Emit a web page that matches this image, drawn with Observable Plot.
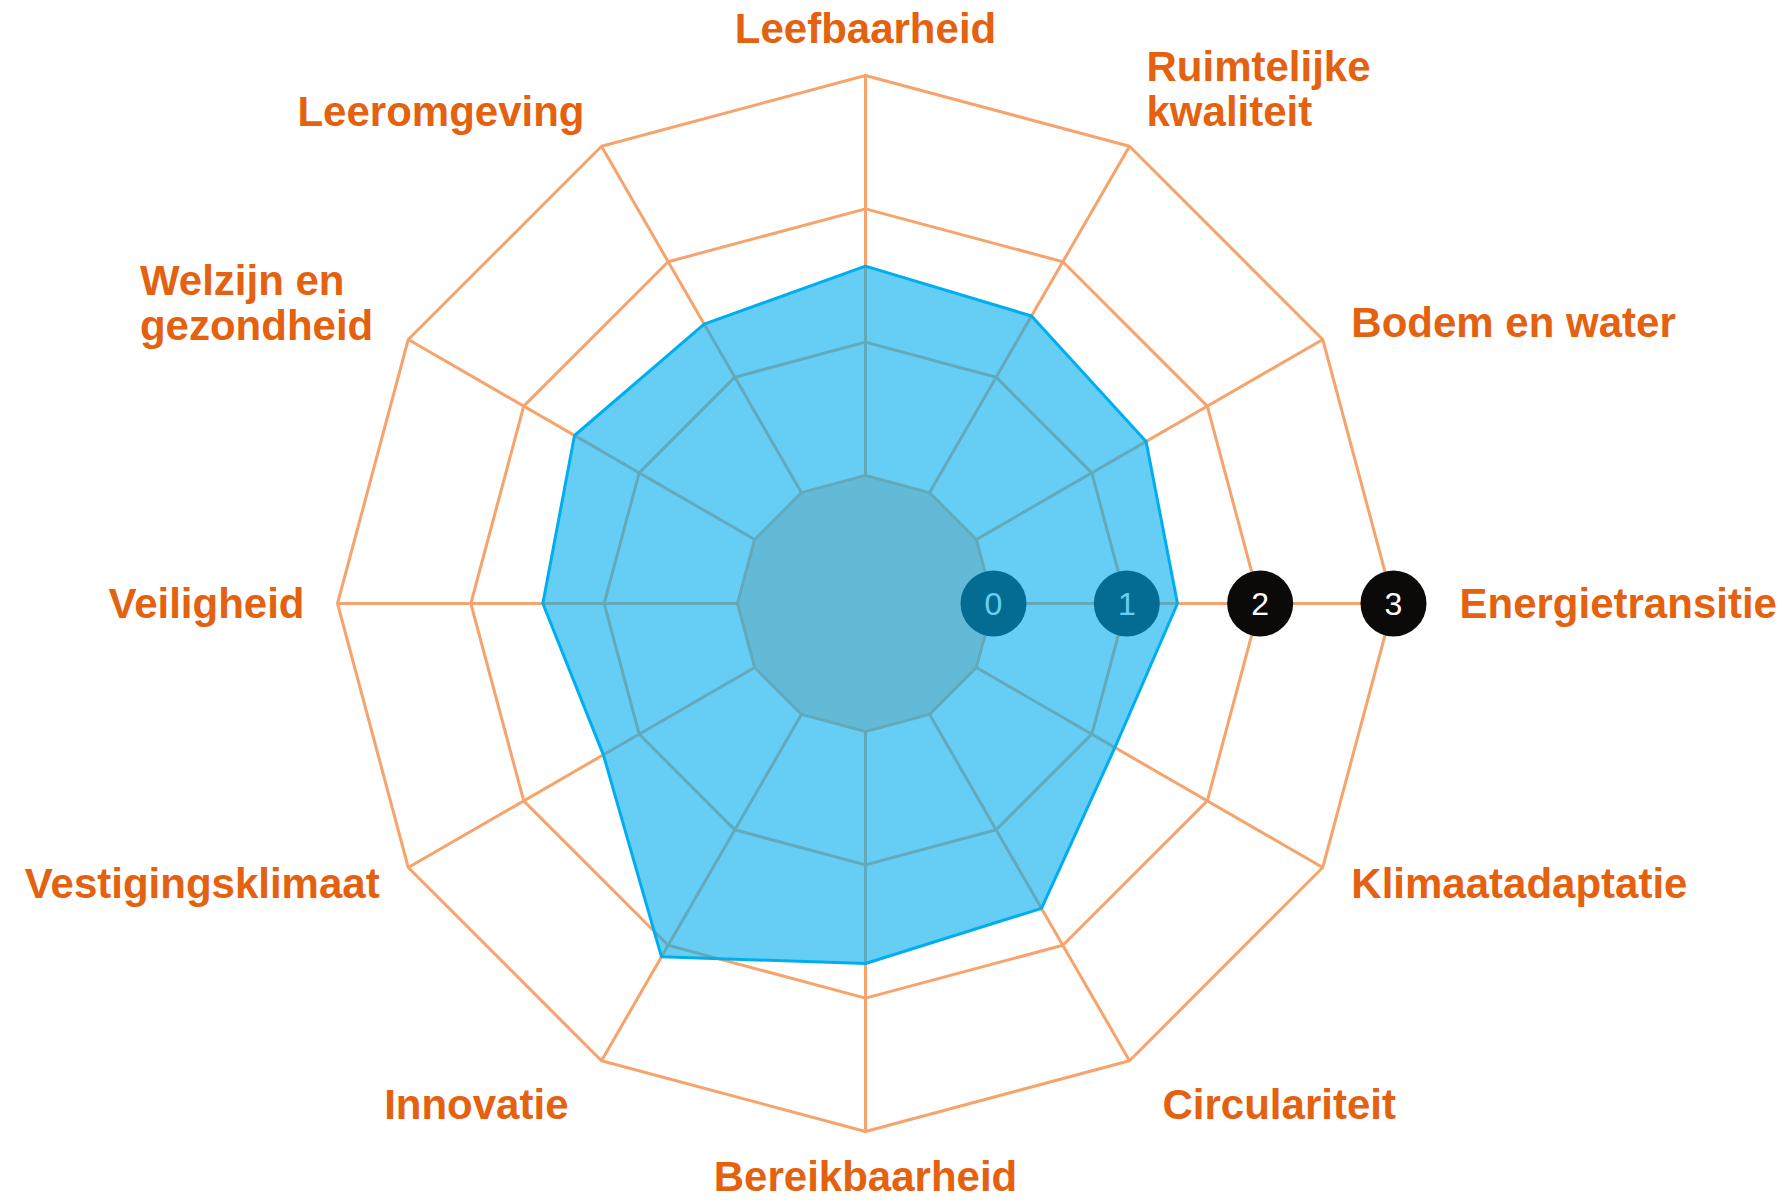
<!DOCTYPE html>
<html>
<head>
<meta charset="utf-8">
<script src="https://cdn.jsdelivr.net/npm/d3@7"></script>
<script src="https://cdn.jsdelivr.net/npm/@observablehq/plot@0.6"></script>
<style>
  html, body { margin: 0; padding: 0; background: #ffffff; overflow: hidden; }
  #chart svg { display: block; }
</style>
</head>
<body>
<div id="chart"></div>
<script>
// ---- data ----
const categories = [
  "Leefbaarheid",
  "Ruimtelijke\nkwaliteit",
  "Bodem en water",
  "Energietransitie",
  "Klimaatadaptatie",
  "Circulariteit",
  "Bereikbaarheid",
  "Innovatie",
  "Vestigingsklimaat",
  "Veiligheid",
  "Welzijn en\ngezondheid",
  "Leeromgeving"
];
const values = [1.57, 1.53, 1.47, 1.38, 1.2, 1.68, 1.74, 2.1, 1.31, 1.46, 1.56, 1.46];
const ringTicks = [0, 1, 2, 3];
const tickLabels = ["0", "1", "2", "3"];

// ---- geometry helpers (data space) ----
const N = categories.length;
const inner = 0.96;            // radius of the "0" ring in radial units
const unitPx = 133.33;         // pixels per radial unit (follows from the scale domains below)
const px = p => p / unitPx;
const angle = i => Math.PI / 2 - i * 2 * Math.PI / N;
const rad = v => v + inner;
const pt = (i, v) => ({x: rad(v) * Math.cos(angle(i)), y: rad(v) * Math.sin(angle(i))});
const maxTick = ringTicks[ringTicks.length - 1];
const markerAxis = categories.indexOf("Energietransitie");

const ringPts = ringTicks.flatMap(t =>
  d3.range(N + 1).map(i => ({t, ...pt(i % N, t)}))
);
const ring0 = ringPts.filter(d => d.t === ringTicks[0]);
const spokes = categories.map((c, i) => {
  const a = pt(i, ringTicks[0]), b = pt(i, maxTick);
  return {x1: a.x, y1: a.y, x2: b.x, y2: b.y};
});
const dataPoly = d3.range(N + 1).map(i => pt(i % N, values[i % N]));

const orange = "#F6A36C";
const labelColor = "#E4610F";
const blue = "#00AEEF";
const font = "'Liberation Sans', Arial, Helvetica, sans-serif";
const labelSize = 42;

// text width measurement for left-aligned multi-line blocks
const ctx = document.createElement("canvas").getContext("2d");
ctx.font = `bold ${labelSize}px ${font}`;
const blockWidth = s => d3.max(s.split("\n"), l => ctx.measureText(l).width);

// label layout rules, relative to the outer-ring vertex of each axis
const labels = categories.map((c, i) => {
  const a = angle(i);
  const cs = Math.cos(a), sn = Math.sin(a);
  const v = pt(i, maxTick);
  const sx = Math.sign(cs), sy = Math.sign(sn);
  const multi = c.includes("\n");
  let x, y, ta, la;
  if (Math.abs(cs) < 0.1) {                 // top / bottom
    const pad = sn > 0 ? 33 : 28;
    x = v.x; y = v.y + sy * px(pad);
    ta = "middle"; la = sn > 0 ? "bottom" : "top";
  } else if (sn > 0.6) {                    // upper diagonals
    x = v.x + sx * px(17); y = v.y + px(20);
    ta = sx > 0 ? "start" : "end"; la = "bottom";
  } else if (sn < -0.6) {                   // lower diagonals
    x = v.x + sx * px(33); y = v.y - px(44);
    ta = sx > 0 ? "start" : "end"; la = "middle";
  } else if (multi) {                       // side, multi-line block
    x = v.x + sx * px(35); y = v.y;
    ta = sx > 0 ? "start" : "end"; la = "bottom";
  } else {                                  // side, single line
    const pad = 33 + (i === markerAxis ? 33 : 0);
    x = v.x + cs * px(pad); y = v.y + sn * px(pad);
    ta = sx > 0 ? "start" : "end"; la = "middle";
  }
  if (multi && ta === "end") {              // keep blocks left-aligned
    x -= px(blockWidth(c));
    ta = "start";
  }
  return {text: c, x, y, ta, la};
});

const labelMarks = [];
for (const ta of ["start", "middle", "end"]) {
  for (const la of ["top", "middle", "bottom"]) {
    const sub = labels.filter(d => d.ta === ta && d.la === la);
    if (!sub.length) continue;
    labelMarks.push(Plot.text(sub, {
      x: "x", y: "y", text: "text",
      textAnchor: ta, lineAnchor: la,
      fill: labelColor, fontSize: labelSize, fontWeight: "bold",
      fontFamily: font, lineHeight: 1.07
    }));
  }
}

const chart = Plot.plot({
  width: 1787,
  height: 1200,
  margin: 0,
  x: {domain: [-865 / unitPx, (1787 - 865) / unitPx], axis: null},
  y: {domain: [-(1200 - 603) / unitPx, 603 / unitPx], axis: null},
  style: {background: "#ffffff"},
  marks: [
    // inner disc (0 ring) fill
    Plot.area(ring0, {x1: () => 0, y1: () => 0, x2: "x", y2: "y", fill: "#F8CEB3", curve: "linear"}),
    // grid rings
    Plot.line(ringPts, {x: "x", y: "y", z: "t", stroke: orange, strokeWidth: 3, strokeLinejoin: "miter"}),
    // spokes
    Plot.link(spokes, {x1: "x1", y1: "y1", x2: "x2", y2: "y2", stroke: orange, strokeWidth: 3}),
    // tick markers on the Energietransitie axis
    Plot.dot(ringTicks, {x: t => rad(t), y: () => 0, r: 33, fill: "#0C0A08", stroke: "none"}),
    Plot.text(ringTicks, {x: t => rad(t), y: () => 0, text: (t, i) => tickLabels[i], fill: "#ffffff",
      fontSize: 32, fontFamily: font, dy: 1}),
    // data polygon
    Plot.area(dataPoly, {x1: () => 0, y1: () => 0, x2: "x", y2: "y", fill: blue, fillOpacity: 0.6, curve: "linear"}),
    Plot.line(dataPoly, {x: "x", y: "y", stroke: blue, strokeWidth: 3, strokeLinejoin: "miter"}),
    ...labelMarks
  ]
});
document.getElementById("chart").append(chart);
</script>
</body>
</html>
